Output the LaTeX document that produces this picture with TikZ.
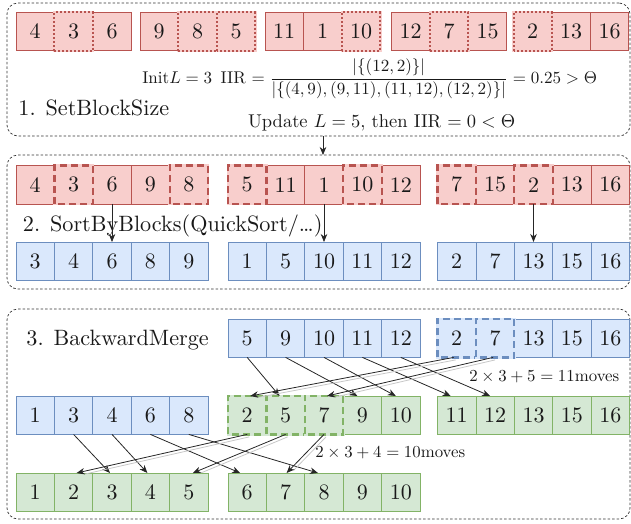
\RequirePackage{fix-cm}
\documentclass[tikz,border=0pt]{standalone}
\usetikzlibrary{arrows.meta}

\definecolor{redfill}{HTML}{F8CECC}
\definecolor{reddraw}{HTML}{B85450}
\definecolor{bluefill}{HTML}{DAE8FC}
\definecolor{bluedraw}{HTML}{6C8EBF}
\definecolor{greenfill}{HTML}{D5E8D4}
\definecolor{greendraw}{HTML}{82B366}

\tikzset{
  % cells: 10pt type enlarged 2.2 times, giving 38.4pt squares
  cell/.style={draw, scale=2.2, minimum width=17.4545pt, minimum height=17.4545pt,
    inner sep=0pt, outer sep=0pt, line width=0.8pt, text=black!90,
    font=\fontsize{10}{12}\selectfont},
  redcell/.style={cell, fill=redfill, draw=reddraw},
  bluecell/.style={cell, fill=bluefill, draw=bluedraw},
  greencell/.style={cell, fill=greenfill, draw=greendraw},
  dotred/.style={line width=2pt, dash pattern=on 2pt off 2pt, draw=reddraw},
  dashred/.style={line width=2.2pt, dash pattern=on 7pt off 4pt, draw=reddraw},
  dashblue/.style={line width=2.2pt, dash pattern=on 7pt off 4pt, draw=bluedraw},
  dashgreen/.style={line width=2.2pt, dash pattern=on 7pt off 4pt, draw=greendraw},
  section/.style={draw=black!80, rounded corners=11pt, dash pattern=on 2.5pt off 2pt,
    line width=0.7pt, inner sep=0pt, outer sep=0pt},
  arr/.style={-{Stealth[length=8pt,width=6.5pt,inset=2.5pt]}, line width=0.8pt, black!85},
  shadowline/.style={line width=0.8pt, black!22, shorten >=7pt},
  steplabel/.style={scale=2.22, font=\fontsize{10}{12}\selectfont, inner sep=0pt,
    anchor=base west, text=black!90},
  note/.style={scale=1.85, font=\fontsize{10}{12}\selectfont, inner sep=0pt,
    anchor=base west, text=black!90},
  movenote/.style={scale=1.68, font=\fontsize{10}{12}\selectfont, inner sep=0pt,
    anchor=base west, text=black!90}
}

% a row of cells: name prefix, left x, top y, cell style, values
\newcommand\cellrow[5]{%
  \foreach \v [count=\i] in {#5}
    \node[#4] (#1\i) at ({#2+(\i-0.5)*38.4},{#3+19.2}) {\v};}
% re-frame some cells of a row: name prefix, fill colour, frame style, indices
\newcommand\markcells[4]{%
  \foreach \j in {#4}{%
    \draw[line width=2.6pt, #2] (#1\j.south west) rectangle (#1\j.north east);
    \draw[#3] (#1\j.south west) rectangle (#1\j.north east);}}

\begin{document}
\begin{tikzpicture}[x=1pt, y=-1pt]
\useasboundingbox (0,0) rectangle (631,523);

% section frames
\node[section, minimum width=623pt, minimum height=133pt] (sec1) at (318.5,69.5) {};
\node[section, minimum width=623pt, minimum height=134pt] (sec2) at (318.5,222) {};
\node[section, minimum width=623pt, minimum height=210pt] (sec3) at (318.5,414) {};

% ---- 1. SetBlockSize
\cellrow{p}{16}{12.3}{redcell}{4,3,6}
\cellrow{q}{140}{12.3}{redcell}{9,8,5}
\cellrow{r}{265}{12.3}{redcell}{11,1,10}
\cellrow{s}{391.5}{12.3}{redcell}{12,7,15}
\cellrow{t}{513.5}{12.3}{redcell}{2,13,16}
\markcells{p}{redfill}{dotred}{2}
\markcells{q}{redfill}{dotred}{2,3}
\markcells{r}{redfill}{dotred}{3}
\markcells{s}{redfill}{dotred}{2}
\markcells{t}{redfill}{dotred}{1}

\node[note, scale=0.92] (iir) at (142,83.3)
  {Init$L=3$\enspace IIR $=\displaystyle\frac{|\{(12,2)\}|}{|\{(4,9),(9,11),(11,12),(12,2)\}|}=0.25>\Theta$};
\node[steplabel] (lab1) at (18,115) {1. SetBlockSize};
\node[note] (upd) at (247.7,127) {Update $L=5,$ then IIR $=0<\Theta$};

\draw[arr] ([xshift=4.5pt]sec1.south) -- ([xshift=4.5pt]sec2.north);

% ---- 2. SortByBlocks
\cellrow{sa}{16}{165.5}{redcell}{4,3,6,9,8}
\cellrow{sb}{228}{165.5}{redcell}{5,11,1,10,12}
\cellrow{sc}{437.5}{165.5}{redcell}{7,15,2,13,16}
\markcells{sa}{redfill}{dashred}{2,5}
\markcells{sb}{redfill}{dashred}{1,4}
\markcells{sc}{redfill}{dashred}{1,3}

\node[steplabel] (lab2) at (22.5,231) {2. SortByBlocks(QuickSort/\ldots)};

\cellrow{ba}{16}{242}{bluecell}{3,4,6,8,9}
\cellrow{bb}{228}{242}{bluecell}{1,5,10,11,12}
\cellrow{bc}{437.5}{242}{bluecell}{2,7,13,15,16}

\draw[arr] (sa3.south) -- (ba3.north);
\draw[arr] (sb3.south) -- (bb3.north);
\draw[arr] (sc3.south) -- (bc3.north);

% ---- 3. BackwardMerge
\node[steplabel] (lab3) at (26,345) {3. BackwardMerge};

\cellrow{ta}{228}{319}{bluecell}{5,9,10,11,12}
\cellrow{tb}{437.5}{319}{bluecell}{2,7,13,15,16}
\markcells{tb}{bluefill}{dashblue}{1,2}

\cellrow{ma}{16}{396}{bluecell}{1,3,4,6,8}
\cellrow{mb}{228}{396}{greencell}{2,5,7,9,10}
\cellrow{mc}{437.5}{396}{greencell}{11,12,13,15,16}
\markcells{mb}{greenfill}{dashgreen}{1,2,3}

\cellrow{la}{16}{473}{greencell}{1,2,3,4,5}
\cellrow{lb}{228}{473}{greencell}{6,7,8,9,10}

\node[movenote] (mv1) at (469,381) {$2\times3+5=11$moves};
\node[movenote] (mv2) at (315,457.7) {$2\times3+4=10$moves};

% moves from the upper run into the middle row
\draw[arr] (ta1.south) -- ([xshift=-6pt]mb2.north);
\draw[arr] (ta2.south) -- ([xshift=-5pt]mb4.north);
\draw[arr] (ta3.south) -- ([xshift=-5pt]mb5.north);
\draw[arr] (ta4.south) -- ([xshift=-6pt]mc1.north);
\draw[arr] (ta5.south) -- ([xshift=-5pt]mc2.north);
\draw[shadowline] ([shift={(-1,2.5)}]tb1.south) -- ([shift={(5,2.5)}]mb1.north);
\draw[shadowline] ([shift={(0,2.5)}]tb2.south) -- ([shift={(5,2.5)}]mb3.north);
\draw[arr] ([xshift=-3pt]tb1.south) -- ([xshift=3pt]mb1.north);
\draw[arr] ([xshift=-2pt]tb2.south) -- ([xshift=3pt]mb3.north);

% moves from the middle row into the lower row
\draw[arr] (ma2.south) -- ([xshift=-2pt]la3.north);
\draw[arr] (ma3.south) -- ([xshift=-3pt]la4.north);
\draw[arr] (ma4.south) -- ([xshift=-7pt]lb1.north);
\draw[arr] (ma5.south) -- ([xshift=-6pt]lb3.north);
\draw[shadowline] ([shift={(2,2.5)}]mb1.south) -- ([shift={(5,2.5)}]la2.north);
\draw[shadowline] ([shift={(2,2.5)}]mb2.south) -- ([shift={(6,2.5)}]la5.north);
\draw[shadowline] ([shift={(2,2.5)}]mb3.south) -- ([shift={(3,2.5)}]lb2.north);
\draw[arr] (mb1.south) -- ([xshift=3pt]la2.north);
\draw[arr] (mb2.south) -- ([xshift=4pt]la5.north);
\draw[arr] (mb3.south) -- ([xshift=1pt]lb2.north);
\end{tikzpicture}
\end{document}
